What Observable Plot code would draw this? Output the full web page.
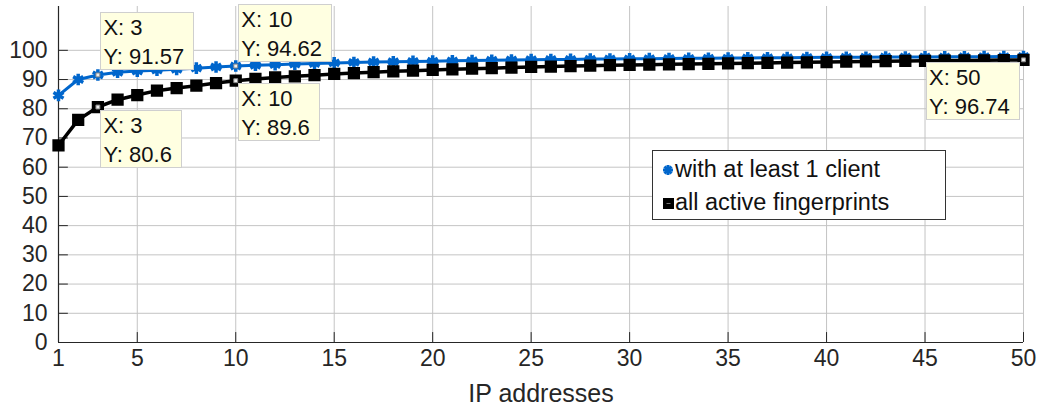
<!DOCTYPE html>
<html>
<head>
<meta charset="utf-8">
<script src="https://cdn.jsdelivr.net/npm/d3@7"></script>
<script src="https://cdn.jsdelivr.net/npm/@observablehq/plot@0.6"></script>
<style>
  body { margin: 0; background: white; }
  #wrap { position: relative; width: 1037px; height: 406px; font-family: 'Liberation Sans', Arial, Helvetica, sans-serif; }
  .tip { position: absolute; background: #ffffe1; border: 1px solid #cfcfcf; font-size: 22px; line-height: 29px; padding: 0 9px 0 2px; white-space: pre; color: #111; box-sizing: border-box; }
  .legend { position: absolute; background: white; border: 1px solid #333; font-size: 23.5px; color: #111; box-sizing: border-box; }
  .legend .row { position: absolute; left: 0; white-space: pre; }
</style>
</head>
<body>
<div id="wrap"></div>
<script>
// ---- data ----
const ipCounts = [1,2,3,4,5,6,7,8,9,10,11,12,13,14,15,16,17,18,19,20,21,22,23,24,25,26,27,28,29,30,31,32,33,34,35,36,37,38,39,40,41,42,43,44,45,46,47,48,49,50];
const clientPct = [84.6,90.0,91.57,92.5,92.9,93.2,93.5,93.9,94.3,94.62,94.9,95.1,95.3,95.5,95.7,95.85,96.0,96.1,96.2,96.3,96.4,96.5,96.6,96.7,96.8,96.85,96.9,97.0,97.05,97.1,97.15,97.2,97.25,97.3,97.35,97.4,97.45,97.5,97.55,97.6,97.62,97.65,97.7,97.72,97.75,97.78,97.8,97.83,97.86,97.9];
const allPct = [67.5,76.2,80.6,83.1,84.7,86.2,87.1,87.9,88.8,89.6,90.2,90.7,91.1,91.5,91.9,92.2,92.5,92.8,93.05,93.3,93.5,93.7,93.9,94.1,94.3,94.45,94.6,94.75,94.9,95.0,95.1,95.2,95.3,95.4,95.5,95.6,95.7,95.8,95.9,96.0,96.1,96.2,96.3,96.35,96.4,96.5,96.55,96.6,96.67,96.74];
const seriesNames = ["with at least 1 client", "all active fingerprints"];
const xTicks = [1,5,10,15,20,25,30,35,40,45,50];
const yTicks = [0,10,20,30,40,50,60,70,80,90,100];
const xLabel = "IP addresses";
// data tips: x value, series index, placement
const tipX = [3, 10, 3, 10, 50];
const tipSeries = [0, 0, 1, 1, 1];
const tipPlace = ["above-right", "above-right", "below-right", "below-right", "below-left"];

// ---- build ----
const clientData = ipCounts.map((x, i) => ({x, y: clientPct[i]}));
const allData = ipCounts.map((x, i) => ({x, y: allPct[i]}));
const seriesValues = [clientPct, allPct];
const tips = tipX.map((x, i) => ({x, y: seriesValues[tipSeries[i]][ipCounts.indexOf(x)], place: tipPlace[i]}));

const blue = "#0066cc";
const axisColor = "#262626";
const gridColor = "#c4c4c4";

const plot = Plot.plot({
  width: 1037,
  height: 406,
  marginTop: 6,
  marginBottom: 64,
  marginLeft: 58,
  marginRight: 14,
  x: {domain: [1, 50]},
  y: {domain: [0, 115]},
  style: {fontFamily: "'Liberation Sans', Arial, Helvetica, sans-serif", fontSize: "23px", color: axisColor, background: "white"},
  marks: [
    Plot.gridX(xTicks, {stroke: gridColor, strokeOpacity: 1}),
    Plot.gridY(yTicks, {stroke: gridColor, strokeOpacity: 1}),
    Plot.axisX(xTicks, {tickSize: 0, tickPadding: 7, label: null, tickFormat: d => String(d), fontSize: 23}),
    Plot.axisY(yTicks, {tickSize: 0, tickPadding: 11, label: null, tickFormat: d => String(d), fontSize: 23}),
    Plot.ruleX(xTicks, {y1: 0, y2: 3.4, stroke: axisColor}),
    Plot.ruleY(yTicks, {x1: 1, x2: 1.5, stroke: axisColor}),
    Plot.ruleY([0], {stroke: axisColor, strokeWidth: 1.2}),
    Plot.ruleX([1], {stroke: axisColor, strokeWidth: 1.2}),
    Plot.text([xLabel], {frameAnchor: "bottom", dy: 59, fontSize: 25, fill: axisColor}),
    Plot.line(clientData, {x: "x", y: "y", stroke: blue, strokeWidth: 3}),
    Plot.dot(clientData, {x: "x", y: "y", symbol: "asterisk", stroke: blue, strokeWidth: 3.5, r: 5.5}),
    Plot.line(allData, {x: "x", y: "y", stroke: "black", strokeWidth: 3.5}),
    Plot.dot(allData, {x: "x", y: "y", symbol: "square", fill: "black", stroke: "black", strokeWidth: 2.5, r: 5.5}),
    Plot.dot(tips, {x: "x", y: "y", symbol: "square", fill: "#eee", stroke: "#888", strokeWidth: 1, r: 2.2})
  ]
});

const wrap = document.getElementById("wrap");
wrap.appendChild(plot);

const sx = plot.scale("x"), sy = plot.scale("y");
for (const t of tips) {
  const px = sx.apply(t.x), py = sy.apply(t.y);
  const div = document.createElement("div");
  div.className = "tip";
  div.textContent = `X: ${t.x}\nY: ${t.y}`;
  div.style.height = "58px";
  div.style.paddingTop = "0px";
  wrap.appendChild(div);
  const w = div.offsetWidth, h = div.offsetHeight;
  let left, top;
  if (t.place === "above-right") { left = px + 3; top = py - 4 - h; }
  else if (t.place === "below-right") { left = px + 3; top = py + 3; }
  else { left = px - 3 - w; top = py + 3; }
  div.style.left = left + "px";
  div.style.top = top + "px";
}

// legend
const leg = document.createElement("div");
leg.className = "legend";
leg.style.left = "652px";
leg.style.top = "150px";
leg.style.width = "294px";
leg.style.height = "70px";
const icons = [
  `<svg width="14" height="14" style="vertical-align:middle"><g stroke="${blue}" stroke-width="3"><line x1="7" y1="2" x2="7" y2="12"/><line x1="2" y1="7" x2="12" y2="7"/><line x1="3.5" y1="3.5" x2="10.5" y2="10.5"/><line x1="10.5" y1="3.5" x2="3.5" y2="10.5"/></g></svg>`,
  `<svg width="14" height="14" style="vertical-align:middle"><rect x="2" y="2" width="11" height="11" fill="black"/><line x1="5.5" y1="7.5" x2="9.5" y2="7.5" stroke="#777" stroke-width="1"/></svg>`
];
seriesNames.forEach((name, i) => {
  const row = document.createElement("div");
  row.className = "row";
  row.style.top = (i === 0 ? 4 : 37) + "px";
  row.style.left = "8px";
  row.innerHTML = icons[i];
  const span = document.createElement("span");
  span.textContent = name;
  span.style.verticalAlign = "middle";
  row.appendChild(span);
  leg.appendChild(row);
});
wrap.appendChild(leg);
</script>
</body>
</html>
